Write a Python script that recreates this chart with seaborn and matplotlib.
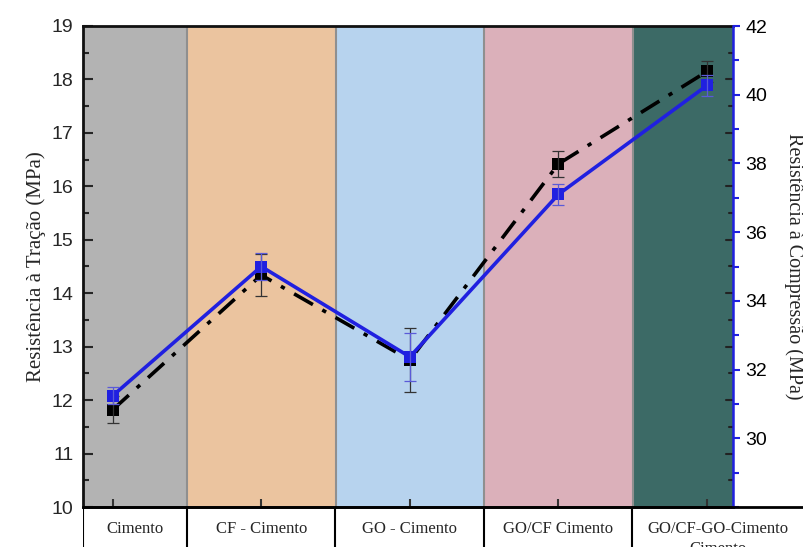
import numpy as np
import pandas as pd
import matplotlib
matplotlib.use("Agg")
import matplotlib.pyplot as plt
import seaborn as sns
from matplotlib.ticker import MultipleLocator

# Data
categories = ["Cimento", "CF - Cimento", "GO - Cimento", "GO/CF Cimento", "GO/CF-GO-Cimento"]
tracao = [11.82, 14.34, 12.75, 16.42, 18.15]          # left axis (MPa)
tracao_err = [0.25, 0.40, 0.60, 0.25, 0.20]
compressao = [31.24, 35.00, 32.37, 37.10, 40.27]      # right axis (MPa)
compressao_err = [0.25, 0.40, 0.70, 0.30, 0.30]
band_colors = ["#b3b3b3", "#ebc49f", "#b7d3ee", "#dbb0ba", "#3c6a66"]

df = pd.DataFrame({"pos": np.arange(len(categories)), "cat": categories,
                   "tracao": tracao, "compressao": compressao})

sns.set_style("ticks")
plt.rcParams["font.family"] = ["Liberation Sans", "DejaVu Sans"]

fig = plt.figure(figsize=(8.04, 5.47), dpi=100)
ax = fig.add_axes([83 / 804, 40 / 547, 650 / 804, 481 / 547])
ax2 = ax.twinx()

# background bands
for i, c in enumerate(band_colors):
    ax.axvspan(i - 0.5, i + 0.5, color=c, zorder=0, lw=0)
for i in range(len(categories) - 1):
    ax.axvline(i + 0.5, color="#8f8f8f", lw=1.5, zorder=1)

# tensile (black, dash-dot)
sns.lineplot(data=df, x="pos", y="tracao", ax=ax, color="black", lw=2.6,
             marker="s", markersize=8, markeredgewidth=0, zorder=3)
ax.lines[-1].set_dashes((6, 3, 1.2, 3))
ax.errorbar(df["pos"], df["tracao"], yerr=tracao_err, fmt="none",
            ecolor="#333333", elinewidth=0.9, capsize=4, capthick=0.9, zorder=3)

# compressive (blue, solid)
ax.set_zorder(ax2.get_zorder() - 1)
ax2.patch.set_visible(False)
sns.lineplot(data=df, x="pos", y="compressao", ax=ax2, color="#2020e0", lw=2.6,
             marker="s", markersize=8, markeredgewidth=0, zorder=4)
ax2.errorbar(df["pos"], df["compressao"], yerr=compressao_err, fmt="none",
             ecolor="#5a5ad8", elinewidth=0.9, capsize=4, capthick=0.9, zorder=4)

ax.set_xlim(-0.2, 4.175)
ax.set_ylim(10, 19)
ax2.set_ylim(28, 42)

# left axis ticks
ax.yaxis.set_major_locator(MultipleLocator(1))
ax.yaxis.set_minor_locator(MultipleLocator(0.5))
ax.tick_params(axis="y", which="major", direction="in", length=7, width=1.5,
               labelsize=14, right=False, pad=7)
ax.tick_params(axis="y", which="minor", direction="in", length=4, width=1.5, right=False)
ax.set_xticks(df["pos"])
ax.set_xticklabels([])
ax.tick_params(axis="x", direction="in", length=6, width=1.5, color="#333333")
ax.set_xlabel("")
ax.set_ylabel("Resistência à Tração (MPa)", family="Liberation Serif", fontsize=15, labelpad=4)

# mirrored black ticks inside the right edge
for v in np.arange(10.5, 19, 0.5):
    ax.plot([4.175 - (0.05 if v % 1 == 0 else 0.03), 4.175], [v, v], color="#222222",
            lw=1.5, zorder=2, clip_on=False)

# right axis
ax2.yaxis.set_major_locator(MultipleLocator(2))
ax2.yaxis.set_minor_locator(MultipleLocator(1))
ax2.tick_params(axis="y", which="major", direction="out", length=5, width=1.5,
                colors="#2020e0", labelcolor="black", labelsize=14, pad=4)
ax2.tick_params(axis="y", which="minor", direction="out", length=4, width=1.5, colors="#2020e0")
ax2.set_yticks([30, 32, 34, 36, 38, 40, 42])
ax2.set_ylabel("Resistência à Compressão (MPa)", family="Liberation Serif", fontsize=14.5,
               rotation=270, va="bottom", labelpad=12)

for s in ["top", "left", "bottom"]:
    ax.spines[s].set_linewidth(2)
    ax.spines[s].set_color("#111111")
for s in ["top", "left", "bottom"]:
    ax2.spines[s].set_visible(False)
ax2.spines["right"].set_color("#2020e0")
ax2.spines["right"].set_linewidth(1.8)
ax.spines["right"].set_visible(False)

# category table below the plot
tab = fig.add_axes([83 / 804, 0, 721 / 804, 40 / 547])
tab.set_xlim(-0.2, -0.2 + 721 / 148.5)
tab.set_ylim(0, 1)
tab.axis("off")
edges = [-0.2, 0.5, 1.5, 2.5, 3.5, -0.2 + 721 / 148.5]
tab.axhline(1, color="black", lw=2, clip_on=False)
for e in edges[:-1]:
    tab.axvline(e, color="black", lw=1.5)
labels = categories[:-1] + [categories[-1] + "\nCimento"]
for i, lab in enumerate(labels):
    cx = (edges[i] + edges[i + 1]) / 2
    tab.text(cx, 0.66, lab, ha="center", va="top", family="Liberation Serif",
             fontsize=12, linespacing=1.35)

fig.savefig("out.png", dpi=100)
